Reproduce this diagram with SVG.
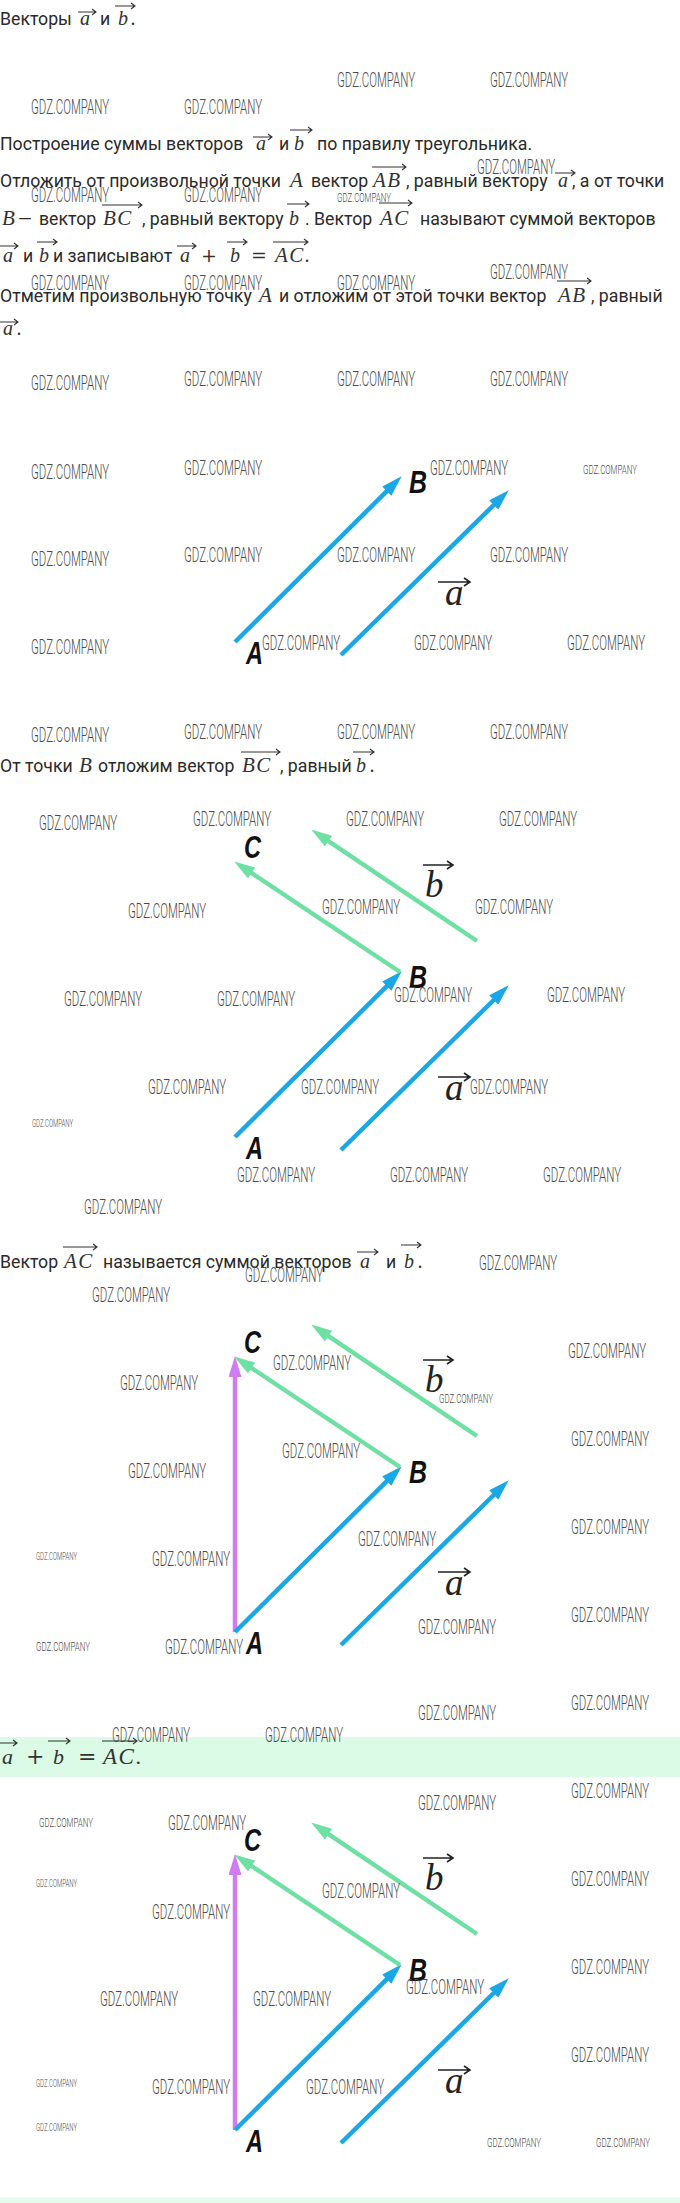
<svg xmlns="http://www.w3.org/2000/svg" width="680" height="2203" viewBox="0 0 680 2203">
<style>
.t{font-family:Roboto,"Liberation Sans",sans-serif;font-size:17.7px;fill:#2a2a2a}
.m{font-family:"Liberation Serif",serif;font-style:italic;font-size:20px;fill:#333}
.mc{font-family:"Liberation Serif",serif;font-style:italic;font-size:21px;letter-spacing:1.5px;fill:#333}
.mu{font-family:"DejaVu Serif","Liberation Serif",serif;font-size:19px;fill:#333}
.ov{fill:none;stroke:#333;stroke-width:1.1}
.wm,.ws,.wt{font-family:Roboto,"Liberation Sans",sans-serif;font-weight:300;fill:#4a4a4a}
.wm{font-size:20px}
.ws{font-size:13px}
.wt{font-size:10.5px}
.lbl{font-family:"Liberation Sans",sans-serif;font-weight:bold;font-style:italic;font-size:32px;fill:#111}
.vl{font-family:"Liberation Serif",serif;font-style:italic;font-size:37px;fill:#222}
.vov{fill:none;stroke:#222;stroke-width:1.6}
.blue{stroke:#1aa7e6;stroke-width:4.5;fill:none;marker-end:url(#mb)}
.green{stroke:#6ee0a3;stroke-width:4.5;fill:none;marker-end:url(#mg)}
.purple{stroke:#d07cf2;stroke-width:4.5;fill:none;marker-end:url(#mp)}
</style>
<defs>
<marker id="mb" markerUnits="userSpaceOnUse" markerWidth="21" markerHeight="13" refX="10" refY="6.5" orient="auto"><path d="M0,0 L21,6.5 L0,13 Z" fill="#1aa7e6"/></marker>
<marker id="mg" markerUnits="userSpaceOnUse" markerWidth="21" markerHeight="13" refX="10" refY="6.5" orient="auto"><path d="M0,0 L21,6.5 L0,13 Z" fill="#6ee0a3"/></marker>
<marker id="mp" markerUnits="userSpaceOnUse" markerWidth="21" markerHeight="13" refX="10" refY="6.5" orient="auto"><path d="M0,0 L21,6.5 L0,13 Z" fill="#d07cf2"/></marker>
</defs>
<rect width="680" height="2203" fill="#fff"/>
<rect x="0" y="1737" width="680" height="40" fill="#dbfbe6"/>
<rect x="0" y="2198" width="680" height="5" fill="#e3fbea"/>

<g id="text">
<text class="t" x="0" y="25">Векторы</text>
<text class="m" x="80" y="25">a</text><path class="ov" d="M78 12H96M92 9L96 12L92 15"/>
<text class="t" x="100" y="25">и</text>
<text class="m" x="118" y="25">b</text><path class="ov" d="M115 6H135M131 3L135 6L131 9"/>
<text class="m" x="131" y="25">.</text>

<text class="t" x="0" y="150">Построение суммы векторов</text>
<text class="m" x="256" y="150">a</text><path class="ov" d="M253 137H272M268 134L272 137L268 140"/>
<text class="t" x="279" y="150">и</text>
<text class="m" x="294" y="150">b</text><path class="ov" d="M290 130H312M308 127L312 130L308 133"/>
<text class="t" x="317" y="150">по правилу треугольника.</text>

<text class="t" x="0" y="187">Отложить от произвольной точки</text>
<text class="mc" x="290" y="187">A</text>
<text class="t" x="311" y="187">вектор</text>
<text class="mc" x="373" y="187">AB</text><path class="ov" d="M372 167H406M402 164L406 167L402 170"/>
<text class="t" x="406" y="187">, равный вектору</text>
<text class="m" x="558" y="187">a</text><path class="ov" d="M555 173H575M571 170L575 173L571 176"/>
<text class="t" x="572" y="187">, а от точки</text>

<text class="mc" x="2" y="225">B</text>
<text class="t" x="18" y="225">—</text>
<text class="t" x="39" y="225">вектор</text>
<text class="mc" x="103" y="225">BC</text><path class="ov" d="M102 205H142M138 202L142 205L138 208"/>
<text class="t" x="142" y="225">, равный вектору</text>
<text class="m" x="289" y="225">b</text><path class="ov" d="M287 204H309M305 201L309 204L305 207"/>
<text class="t" x="305" y="225">. Вектор</text>
<text class="mc" x="380" y="225">AC</text><path class="ov" d="M379 203H412M408 200L412 203L408 206"/>
<text class="t" x="420" y="225">называют суммой векторов</text>

<text class="m" x="3" y="262">a</text><path class="ov" d="M0 246H18M14 243L18 246L14 249"/>
<text class="t" x="23" y="262">и</text>
<text class="m" x="39" y="262">b</text><path class="ov" d="M37 242H57M53 239L57 242L53 245"/>
<text class="t" x="53" y="262">и записывают</text>
<text class="m" x="180" y="262">a</text><path class="ov" d="M177 246H196M192 243L196 246L192 249"/>
<text class="mu" x="201" y="262">+</text>
<text class="m" x="230" y="262">b</text><path class="ov" d="M227 242H247M243 239L247 242L243 245"/>
<text class="mu" x="251" y="262">=</text>
<text class="mc" x="275" y="262">AC</text><path class="ov" d="M273 242H308M304 239L308 242L304 245"/>
<text class="m" x="305" y="262">.</text>

<text class="t" x="0" y="302">Отметим произвольную точку</text>
<text class="mc" x="259" y="302">A</text>
<text class="t" x="279" y="302">и отложим от этой точки вектор</text>
<text class="mc" x="558" y="302">AB</text><path class="ov" d="M557 281H591M587 278L591 281L587 284"/>
<text class="t" x="591" y="302">, равный</text>

<text class="m" x="3" y="335">a</text><path class="ov" d="M0 322H18M14 319L18 322L14 325"/>
<text class="m" x="17" y="335">.</text>

<text class="t" x="0" y="772">От точки</text>
<text class="mc" x="79" y="772">B</text>
<text class="t" x="98" y="772">отложим вектор</text>
<text class="mc" x="242" y="772">BC</text><path class="ov" d="M241 752H280M276 749L280 752L276 755"/>
<text class="t" x="280" y="772">, равный</text>
<text class="m" x="356" y="772">b</text><path class="ov" d="M353 752H374M370 749L374 752L370 755"/>
<text class="m" x="370" y="772">.</text>

<text class="t" x="0" y="1268">Вектор</text>
<text class="mc" x="64" y="1268">AC</text><path class="ov" d="M63 1247H97M93 1244L97 1247L93 1250"/>
<text class="t" x="103" y="1268">называется суммой векторов</text>
<text class="m" x="360" y="1268">a</text><path class="ov" d="M357 1252H378M374 1249L378 1252L374 1255"/>
<text class="t" x="386" y="1268">и</text>
<text class="m" x="404" y="1268">b</text><path class="ov" d="M401 1245H421M417 1242L421 1245L417 1248"/>
<text class="m" x="418" y="1268">.</text>

<text class="m" x="2" y="1764" style="font-size:22px">a</text><path class="ov" d="M0 1743H17M13 1740L17 1743L13 1746"/>
<text class="mu" x="26" y="1764" style="font-size:22px">+</text>
<text class="m" x="53" y="1764" style="font-size:22px">b</text><path class="ov" d="M48 1741H70M66 1738L70 1741L66 1744"/>
<text class="mu" x="78" y="1764" style="font-size:22px">=</text>
<text class="mc" x="103" y="1764" style="font-size:23px">AC</text><path class="ov" d="M102 1741H137M133 1738L137 1741L133 1744"/>
<text class="m" x="136" y="1764" style="font-size:22px">.</text>
</g>

<g id="diagram1">
<g id="d1-connectors">
<line class="blue" x1="235" y1="642" x2="393.9" y2="484.1"/>
<line class="blue" x1="341" y1="655" x2="500.9" y2="498"/>
</g>
<g id="d1-A"><text class="lbl" x="246" y="664" textLength="17" lengthAdjust="spacingAndGlyphs">A</text></g>
<g id="d1-B"><text class="lbl" x="409" y="493" textLength="18" lengthAdjust="spacingAndGlyphs">B</text></g>
<g id="d1-a"><text class="vl" x="445" y="605">a</text><path class="vov" d="M438 582H470M464 578L470 582L464 586"/></g>
</g>

<g id="diagram2" transform="translate(0,495)">
<g id="d2-connectors">
<line class="blue" x1="235" y1="642" x2="393.9" y2="484.1"/>
<line class="blue" x1="341" y1="655" x2="500.9" y2="498"/>
<line class="green" x1="400" y1="477" x2="243.3" y2="372.5"/>
<line class="green" x1="477" y1="446" x2="320.3" y2="340.6"/>
</g>
<g id="d2-A"><text class="lbl" x="246" y="664" textLength="17" lengthAdjust="spacingAndGlyphs">A</text></g>
<g id="d2-B"><text class="lbl" x="409" y="493" textLength="18" lengthAdjust="spacingAndGlyphs">B</text></g>
<g id="d2-C"><text class="lbl" x="244" y="363" textLength="17" lengthAdjust="spacingAndGlyphs">C</text></g>
<g id="d2-a"><text class="vl" x="445" y="605">a</text><path class="vov" d="M438 582H470M464 578L470 582L464 586"/></g>
<g id="d2-b"><text class="vl" x="425" y="402">b</text><path class="vov" d="M423 370H453M447 366L453 370L447 374"/></g>
</g>

<g id="diagram3" transform="translate(0,990)">
<g id="d3-connectors">
<line class="purple" x1="235" y1="642" x2="235" y2="377"/>
<line class="blue" x1="235" y1="642" x2="393.9" y2="484.1"/>
<line class="blue" x1="341" y1="655" x2="500.9" y2="498"/>
<line class="green" x1="400" y1="477" x2="243.3" y2="372.5"/>
<line class="green" x1="477" y1="446" x2="320.3" y2="340.6"/>
</g>
<g id="d3-A"><text class="lbl" x="246" y="664" textLength="17" lengthAdjust="spacingAndGlyphs">A</text></g>
<g id="d3-B"><text class="lbl" x="409" y="493" textLength="18" lengthAdjust="spacingAndGlyphs">B</text></g>
<g id="d3-C"><text class="lbl" x="244" y="363" textLength="17" lengthAdjust="spacingAndGlyphs">C</text></g>
<g id="d3-a"><text class="vl" x="445" y="605">a</text><path class="vov" d="M438 582H470M464 578L470 582L464 586"/></g>
<g id="d3-b"><text class="vl" x="425" y="402">b</text><path class="vov" d="M423 370H453M447 366L453 370L447 374"/></g>
</g>

<g id="diagram4" transform="translate(0,1488)">
<g id="d4-connectors">
<line class="purple" x1="235" y1="642" x2="235" y2="377"/>
<line class="blue" x1="235" y1="642" x2="393.9" y2="484.1"/>
<line class="blue" x1="341" y1="655" x2="500.9" y2="498"/>
<line class="green" x1="400" y1="477" x2="243.3" y2="372.5"/>
<line class="green" x1="477" y1="446" x2="320.3" y2="340.6"/>
</g>
<g id="d4-A"><text class="lbl" x="246" y="664" textLength="17" lengthAdjust="spacingAndGlyphs">A</text></g>
<g id="d4-B"><text class="lbl" x="409" y="493" textLength="18" lengthAdjust="spacingAndGlyphs">B</text></g>
<g id="d4-C"><text class="lbl" x="244" y="363" textLength="17" lengthAdjust="spacingAndGlyphs">C</text></g>
<g id="d4-a"><text class="vl" x="445" y="605">a</text><path class="vov" d="M438 582H470M464 578L470 582L464 586"/></g>
<g id="d4-b"><text class="vl" x="425" y="402">b</text><path class="vov" d="M423 370H453M447 366L453 370L447 374"/></g>
</g>

<g id="watermarks">
<text class="wm" x="337" y="87" textLength="78" lengthAdjust="spacingAndGlyphs">GDZ.COMPANY</text>
<text class="wm" x="490" y="87" textLength="78" lengthAdjust="spacingAndGlyphs">GDZ.COMPANY</text>
<text class="wm" x="31" y="114" textLength="78" lengthAdjust="spacingAndGlyphs">GDZ.COMPANY</text>
<text class="wm" x="184" y="114" textLength="78" lengthAdjust="spacingAndGlyphs">GDZ.COMPANY</text>
<text class="wm" x="477" y="174" textLength="78" lengthAdjust="spacingAndGlyphs">GDZ.COMPANY</text>
<text class="wm" x="31" y="202" textLength="78" lengthAdjust="spacingAndGlyphs">GDZ.COMPANY</text>
<text class="wm" x="184" y="202" textLength="78" lengthAdjust="spacingAndGlyphs">GDZ.COMPANY</text>
<text class="ws" x="337" y="201.5" textLength="54" lengthAdjust="spacingAndGlyphs">GDZ.COMPANY</text>
<text class="wm" x="490" y="279" textLength="78" lengthAdjust="spacingAndGlyphs">GDZ.COMPANY</text>
<text class="wm" x="31" y="290" textLength="78" lengthAdjust="spacingAndGlyphs">GDZ.COMPANY</text>
<text class="wm" x="184" y="290" textLength="78" lengthAdjust="spacingAndGlyphs">GDZ.COMPANY</text>
<text class="wm" x="337" y="290" textLength="78" lengthAdjust="spacingAndGlyphs">GDZ.COMPANY</text>

<text class="wm" x="31" y="390" textLength="78" lengthAdjust="spacingAndGlyphs">GDZ.COMPANY</text>
<text class="wm" x="184" y="386" textLength="78" lengthAdjust="spacingAndGlyphs">GDZ.COMPANY</text>
<text class="wm" x="337" y="386" textLength="78" lengthAdjust="spacingAndGlyphs">GDZ.COMPANY</text>
<text class="wm" x="490" y="386" textLength="78" lengthAdjust="spacingAndGlyphs">GDZ.COMPANY</text>
<text class="wm" x="31" y="479" textLength="78" lengthAdjust="spacingAndGlyphs">GDZ.COMPANY</text>
<text class="wm" x="184" y="475" textLength="78" lengthAdjust="spacingAndGlyphs">GDZ.COMPANY</text>
<text class="wm" x="430" y="475" textLength="78" lengthAdjust="spacingAndGlyphs">GDZ.COMPANY</text>
<text class="ws" x="583" y="473.5" textLength="54" lengthAdjust="spacingAndGlyphs">GDZ.COMPANY</text>
<text class="wm" x="31" y="566" textLength="78" lengthAdjust="spacingAndGlyphs">GDZ.COMPANY</text>
<text class="wm" x="184" y="562" textLength="78" lengthAdjust="spacingAndGlyphs">GDZ.COMPANY</text>
<text class="wm" x="337" y="562" textLength="78" lengthAdjust="spacingAndGlyphs">GDZ.COMPANY</text>
<text class="wm" x="490" y="562" textLength="78" lengthAdjust="spacingAndGlyphs">GDZ.COMPANY</text>
<text class="wm" x="31" y="654" textLength="78" lengthAdjust="spacingAndGlyphs">GDZ.COMPANY</text>
<text class="wm" x="262" y="650" textLength="78" lengthAdjust="spacingAndGlyphs">GDZ.COMPANY</text>
<text class="wm" x="414" y="650" textLength="78" lengthAdjust="spacingAndGlyphs">GDZ.COMPANY</text>
<text class="wm" x="567" y="650" textLength="78" lengthAdjust="spacingAndGlyphs">GDZ.COMPANY</text>
<text class="wm" x="31" y="742" textLength="78" lengthAdjust="spacingAndGlyphs">GDZ.COMPANY</text>
<text class="wm" x="184" y="739" textLength="78" lengthAdjust="spacingAndGlyphs">GDZ.COMPANY</text>
<text class="wm" x="337" y="739" textLength="78" lengthAdjust="spacingAndGlyphs">GDZ.COMPANY</text>
<text class="wm" x="490" y="739" textLength="78" lengthAdjust="spacingAndGlyphs">GDZ.COMPANY</text>

<text class="wm" x="39" y="830" textLength="78" lengthAdjust="spacingAndGlyphs">GDZ.COMPANY</text>
<text class="wm" x="193" y="826" textLength="78" lengthAdjust="spacingAndGlyphs">GDZ.COMPANY</text>
<text class="wm" x="346" y="826" textLength="78" lengthAdjust="spacingAndGlyphs">GDZ.COMPANY</text>
<text class="wm" x="499" y="826" textLength="78" lengthAdjust="spacingAndGlyphs">GDZ.COMPANY</text>
<text class="wm" x="128" y="918" textLength="78" lengthAdjust="spacingAndGlyphs">GDZ.COMPANY</text>
<text class="wm" x="322" y="914" textLength="78" lengthAdjust="spacingAndGlyphs">GDZ.COMPANY</text>
<text class="wm" x="475" y="914" textLength="78" lengthAdjust="spacingAndGlyphs">GDZ.COMPANY</text>
<text class="wm" x="64" y="1006" textLength="78" lengthAdjust="spacingAndGlyphs">GDZ.COMPANY</text>
<text class="wm" x="217" y="1006" textLength="78" lengthAdjust="spacingAndGlyphs">GDZ.COMPANY</text>
<text class="wm" x="394" y="1002" textLength="78" lengthAdjust="spacingAndGlyphs">GDZ.COMPANY</text>
<text class="wm" x="547" y="1002" textLength="78" lengthAdjust="spacingAndGlyphs">GDZ.COMPANY</text>
<text class="wm" x="148" y="1094" textLength="78" lengthAdjust="spacingAndGlyphs">GDZ.COMPANY</text>
<text class="wm" x="301" y="1094" textLength="78" lengthAdjust="spacingAndGlyphs">GDZ.COMPANY</text>
<text class="wm" x="470" y="1094" textLength="78" lengthAdjust="spacingAndGlyphs">GDZ.COMPANY</text>
<text class="wt" x="32" y="1127" textLength="41" lengthAdjust="spacingAndGlyphs">GDZ.COMPANY</text>
<text class="wm" x="237" y="1182" textLength="78" lengthAdjust="spacingAndGlyphs">GDZ.COMPANY</text>
<text class="wm" x="390" y="1182" textLength="78" lengthAdjust="spacingAndGlyphs">GDZ.COMPANY</text>
<text class="wm" x="543" y="1182" textLength="78" lengthAdjust="spacingAndGlyphs">GDZ.COMPANY</text>
<text class="wm" x="84" y="1214" textLength="78" lengthAdjust="spacingAndGlyphs">GDZ.COMPANY</text>

<text class="wm" x="479" y="1270" textLength="78" lengthAdjust="spacingAndGlyphs">GDZ.COMPANY</text>
<text class="wm" x="245" y="1282" textLength="78" lengthAdjust="spacingAndGlyphs">GDZ.COMPANY</text>
<text class="wm" x="92" y="1302" textLength="78" lengthAdjust="spacingAndGlyphs">GDZ.COMPANY</text>
<text class="wm" x="568" y="1358" textLength="78" lengthAdjust="spacingAndGlyphs">GDZ.COMPANY</text>
<text class="wm" x="273" y="1370" textLength="78" lengthAdjust="spacingAndGlyphs">GDZ.COMPANY</text>
<text class="wm" x="120" y="1390" textLength="78" lengthAdjust="spacingAndGlyphs">GDZ.COMPANY</text>
<text class="ws" x="439" y="1402.5" textLength="54" lengthAdjust="spacingAndGlyphs">GDZ.COMPANY</text>
<text class="wm" x="571" y="1446" textLength="78" lengthAdjust="spacingAndGlyphs">GDZ.COMPANY</text>
<text class="wm" x="282" y="1458" textLength="78" lengthAdjust="spacingAndGlyphs">GDZ.COMPANY</text>
<text class="wm" x="128" y="1478" textLength="78" lengthAdjust="spacingAndGlyphs">GDZ.COMPANY</text>
<text class="wm" x="571" y="1534" textLength="78" lengthAdjust="spacingAndGlyphs">GDZ.COMPANY</text>
<text class="wm" x="358" y="1546" textLength="78" lengthAdjust="spacingAndGlyphs">GDZ.COMPANY</text>
<text class="wt" x="36" y="1560" textLength="41" lengthAdjust="spacingAndGlyphs">GDZ.COMPANY</text>
<text class="wm" x="152" y="1566" textLength="78" lengthAdjust="spacingAndGlyphs">GDZ.COMPANY</text>
<text class="wm" x="571" y="1622" textLength="78" lengthAdjust="spacingAndGlyphs">GDZ.COMPANY</text>
<text class="wm" x="418" y="1634" textLength="78" lengthAdjust="spacingAndGlyphs">GDZ.COMPANY</text>
<text class="ws" x="36" y="1650.5" textLength="54" lengthAdjust="spacingAndGlyphs">GDZ.COMPANY</text>
<text class="wm" x="165" y="1654" textLength="78" lengthAdjust="spacingAndGlyphs">GDZ.COMPANY</text>
<text class="wm" x="571" y="1710" textLength="78" lengthAdjust="spacingAndGlyphs">GDZ.COMPANY</text>
<text class="wm" x="418" y="1720" textLength="78" lengthAdjust="spacingAndGlyphs">GDZ.COMPANY</text>

<text class="wm" x="112" y="1742" textLength="78" lengthAdjust="spacingAndGlyphs">GDZ.COMPANY</text>
<text class="wm" x="265" y="1742" textLength="78" lengthAdjust="spacingAndGlyphs">GDZ.COMPANY</text>
<text class="wm" x="571" y="1798" textLength="78" lengthAdjust="spacingAndGlyphs">GDZ.COMPANY</text>
<text class="wm" x="418" y="1810" textLength="78" lengthAdjust="spacingAndGlyphs">GDZ.COMPANY</text>
<text class="ws" x="39" y="1826.5" textLength="54" lengthAdjust="spacingAndGlyphs">GDZ.COMPANY</text>
<text class="wm" x="168" y="1830" textLength="78" lengthAdjust="spacingAndGlyphs">GDZ.COMPANY</text>
<text class="wt" x="36" y="1887" textLength="41" lengthAdjust="spacingAndGlyphs">GDZ.COMPANY</text>
<text class="wm" x="571" y="1886" textLength="78" lengthAdjust="spacingAndGlyphs">GDZ.COMPANY</text>
<text class="wm" x="322" y="1898" textLength="78" lengthAdjust="spacingAndGlyphs">GDZ.COMPANY</text>
<text class="wm" x="152" y="1919" textLength="78" lengthAdjust="spacingAndGlyphs">GDZ.COMPANY</text>
<text class="wm" x="571" y="1974" textLength="78" lengthAdjust="spacingAndGlyphs">GDZ.COMPANY</text>
<text class="wm" x="406" y="1994" textLength="78" lengthAdjust="spacingAndGlyphs">GDZ.COMPANY</text>
<text class="wm" x="100" y="2006" textLength="78" lengthAdjust="spacingAndGlyphs">GDZ.COMPANY</text>
<text class="wm" x="253" y="2006" textLength="78" lengthAdjust="spacingAndGlyphs">GDZ.COMPANY</text>
<text class="wm" x="571" y="2062" textLength="78" lengthAdjust="spacingAndGlyphs">GDZ.COMPANY</text>
<text class="wt" x="36" y="2087" textLength="41" lengthAdjust="spacingAndGlyphs">GDZ.COMPANY</text>
<text class="wm" x="152" y="2094" textLength="78" lengthAdjust="spacingAndGlyphs">GDZ.COMPANY</text>
<text class="wm" x="306" y="2094" textLength="78" lengthAdjust="spacingAndGlyphs">GDZ.COMPANY</text>
<text class="wt" x="36" y="2131" textLength="41" lengthAdjust="spacingAndGlyphs">GDZ.COMPANY</text>
<text class="ws" x="487" y="2146.5" textLength="54" lengthAdjust="spacingAndGlyphs">GDZ.COMPANY</text>
<text class="ws" x="596" y="2146.5" textLength="54" lengthAdjust="spacingAndGlyphs">GDZ.COMPANY</text>
</g>
</svg>
